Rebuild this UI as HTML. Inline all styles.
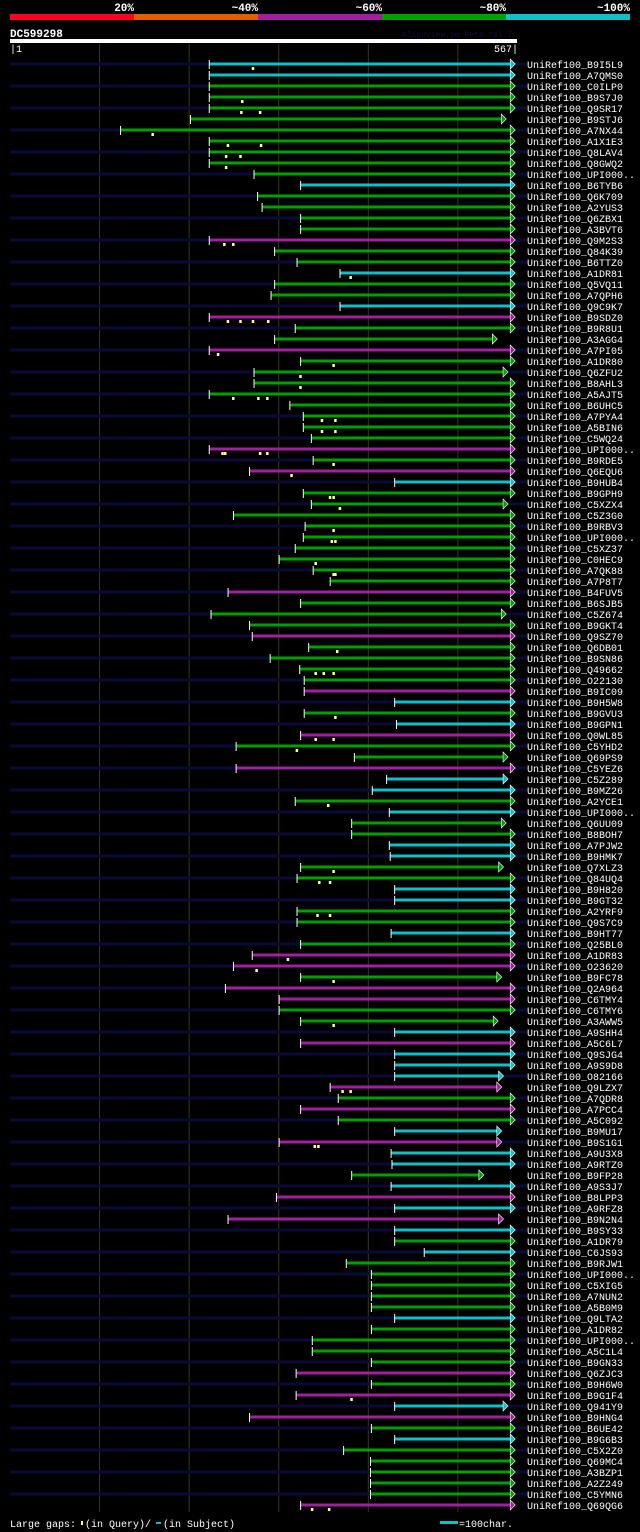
<!DOCTYPE html>
<html><head><meta charset="utf-8"><style>
html,body{margin:0;padding:0;background:#000;}
body{width:640px;height:1532px;overflow:hidden;}
svg{display:block;}
text{font-family:"Liberation Mono","DejaVu Sans Mono",monospace;}
</style></head><body>
<svg id="chart" width="640" height="1532" viewBox="0 0 640 1532" xmlns="http://www.w3.org/2000/svg">
  <g>
    <rect x="10" y="14" width="124" height="6" fill="#ff0022"/>
    <rect x="134" y="14" width="124" height="6" fill="#e06000"/>
    <rect x="258" y="14" width="124" height="6" fill="#a020a0"/>
    <rect x="382" y="14" width="124" height="6" fill="#00a000"/>
    <rect x="506" y="14" width="124" height="6" fill="#10c0c8"/>
    <g font-size="11" font-weight="bold" fill="#fff" text-anchor="end">
      <text x="134" y="11">20%</text>
      <text x="258" y="11">~40%</text>
      <text x="382" y="11">~60%</text>
      <text x="506" y="11">~80%</text>
      <text x="630" y="11">~100%</text>
    </g>
  </g>
  <text x="10" y="37" font-size="11" font-weight="bold" fill="#fff">DC599298</text>
  <text x="402" y="37" font-size="8" fill="#101040">AlignView.pm Beta rel.7</text>
  <rect x="10" y="39" width="507" height="4" fill="#fff"/>
  <text x="10" y="52" font-size="10" fill="#fff">|1</text>
  <text x="518" y="52" font-size="10" fill="#fff" text-anchor="end">567|</text>
  <g id="grid"></g>
  <g id="rows"></g>
  <g>
    <text x="10" y="1527" font-size="10" fill="#fff">Large gaps:</text>
    <rect x="81" y="1521" width="2" height="4" fill="#ffff80"/>
    <text x="85" y="1527" font-size="10" fill="#fff">(in Query)/</text>
    <rect x="156" y="1522" width="5" height="2" fill="#10c0c8"/>
    <text x="163" y="1527" font-size="10" fill="#fff">(in Subject)</text>
    <rect x="440" y="1521" width="18" height="3" fill="#10c0c8"/>
    <text x="459" y="1527" font-size="10" fill="#fff">=100char.</text>
  </g>
</svg>
<script>
const QLEN = 567;
const names = ["B9I5L9","A7QMS0","C0ILP0","B9S7J0","Q9SR17","B9STJ6","A7NX44","A1X1E3","Q8LAV4","Q8GWQ2","UPI000..","B6TYB6","Q6K709","A2YUS3","Q6ZBX1","A3BVT6","Q9M2S3","Q84K39","B6TTZ0","A1DR81","Q5VQ11","A7QPH6","Q9C9K7","B9SDZ0","B9R8U1","A3AGG4","A7PI05","A1DR80","Q6ZFU2","B8AHL3","A5AJT5","B6UHC5","A7PYA4","A5BIN6","C5WQ24","UPI000..","B9RDE5","Q6EQU6","B9HUB4","B9GPH9","C5XZX4","C5Z3G0","B9RBV3","UPI000..","C5XZ37","C0HEC9","A7QK88","A7P8T7","B4FUV5","B6SJB5","C5Z674","B9GKT4","Q9SZ70","Q6DB01","B9SN86","Q49662","O22130","B9IC09","B9H5W8","B9GVU3","B9GPN1","Q0WL85","C5YHD2","Q69PS9","C5YEZ6","C5Z289","B9MZ26","A2YCE1","UPI000..","Q6UU09","B8BOH7","A7PJW2","B9HMK7","Q7XLZ3","Q84UQ4","B9H820","B9GT32","A2YRF9","Q9S7C9","B9HT77","Q25BL0","A1DR83","O23620","B9FC78","Q2A964","C6TMY4","C6TMY6","A3AWW5","A9SHH4","A5C6L7","Q9SJG4","A9S9D8","O82166","Q9LZX7","A7QDR8","A7PCC4","A5C092","B9MU17","B9S1G1","A9U3X8","A9RTZ0","B9FP28","A9S3J7","B8LPP3","A9RFZ8","B9N2N4","B9SY33","A1DR79","C6JS93","B9RJW1","UPI000..","C5XIG5","A7NUN2","A5B0M9","Q9LTA2","A1DR82","UPI000..","A5C1L4","B9GN33","Q6ZJC3","B9H6W0","B9G1F4","Q941Y9","B9HNG4","B6UE42","B9G6B3","C5X2Z0","Q69MC4","A3BZP1","A2Z249","C5YMN6","Q69QG6"];
const identityClass = "ccgggggggg"+"gcggggmggc"+"ggcmggmggg"+"gggggmgmcg"+"ggggggggmg"+"ggmggggmcg"+"cmggmccgcg"+"gccggccggc"+"gmmgmmggcm"+"cccmgmgcmc"+"cgcmcmcgcg"+"ggggcggggm"+"gmcmgcgggg"+"gm";
const starts = [224,224,224,224,224,203,125,224,224,224,274,326,278,283,326,326,224,297,322,370,297,293,370,224,320,297,224,326,274,274,224,314,329,329,338,224,340,269,431,329,338,251,331,329,320,302,340,359,245,326,226,269,272,335,292,325,330,330,431,330,433,326,254,386,254,422,406,320,425,383,383,425,426,326,322,431,431,322,322,427,326,272,251,326,242,302,302,326,431,326,431,431,431,359,368,326,368,431,302,427,428,383,427,299,431,245,431,431,464,377,405,405,405,405,431,405,339,339,405,321,405,321,431,269,405,431,374,404,404,404,404,326];
const ends = [565,565,565,565,565,555,565,565,565,565,565,565,565,565,565,565,565,565,565,565,565,565,565,565,565,545,565,565,557,565,565,565,565,565,565,565,565,565,565,565,557,565,565,565,565,565,565,565,565,565,555,565,565,565,565,565,565,565,565,565,565,565,565,557,565,557,565,565,565,555,565,565,565,552,565,565,565,565,565,565,565,565,565,550,565,565,565,546,565,565,565,565,552,550,565,565,565,550,550,565,565,530,565,565,565,552,565,565,565,565,565,565,565,565,565,565,565,565,565,565,565,565,557,565,565,565,565,565,565,565,565,565];
const markerRows = [1,4,5,5,7,8,8,9,9,10,20,17,17,24,24,24,24,27,28,29,30,31,31,31,33,33,34,34,36,36,36,36,37,38,40,40,41,43,44,44,46,47,47,54,56,56,56,60,62,62,63,68,74,75,75,78,78,82,83,84,88,94,94,99,99,122,132,132];
const markerPos  = [272,260,259,280,160,244,281,242,258,242,381,240,250,244,258,272,289,233,362,325,325,250,278,288,349,364,349,364,238,241,280,288,362,315,358,362,369,362,360,364,342,362,364,366,342,351,362,364,342,362,321,356,362,346,358,344,358,311,276,362,362,372,381,341,345,382,338,357];

const COLORS = {c:"#10c0c8", g:"#00a000", m:"#a020a0"};
const NS = "http://www.w3.org/2000/svg";
const X0 = 10, X1 = 517, Y0 = 64, DY = 11;
function xScale(v){ return X0 + (v - 1) * (X1 - X0) / (QLEN - 1); }
function yScale(i){ return Y0 + i * DY; }
function mk(tag, attrs, parent){ const e = document.createElementNS(NS, tag); for (const k in attrs) e.setAttribute(k, attrs[k]); parent.appendChild(e); return e; }

const grid = document.getElementById("grid");
[101,201,301,401,501].forEach(function(t){
  const l = mk("line", {x1:xScale(t), x2:xScale(t), y1:44, y2:1512, stroke:"#3a3a10", "stroke-width":1}, grid);
  
  
});

const rows = document.getElementById("rows");
names.forEach(function(n, i){
  const y = yScale(i);
  const g = mk("g", {}, rows);
  
  
  if (i % 2 === 0) {
    const bg = mk("rect", {x:10, y:y-1.5, width:517, height:3, fill:"#0a0a38"}, g);
    
    
  }
  const col = COLORS[identityClass[i]] || COLORS.g;
  const xs = xScale(starts[i]), xe = xScale(ends[i]);
  const bar = mk("rect", {x:xs, y:y-1.5, width:xe-xs-4, height:3, fill:col}, g);
  
  
  const ar = mk("polygon", {points:(xe-5)+","+(y-5)+" "+xe+","+y+" "+(xe-5)+","+(y+5), fill:col, stroke:"#fff", "stroke-width":0.6}, g);
  
  
  const tk = mk("rect", {x:xs-1, y:y-4, width:1, height:9, fill:"#fff"}, g);
  
  
  const tx = mk("text", {x:527, y:y+4, "font-size":10, fill:"#fff"}, g);
  tx.textContent = "UniRef100_" + n;
  
  
});

markerRows.forEach(function(r, k){
  const y = yScale(r - 1), x = xScale(markerPos[k]);
  const m = mk("rect", {x:x-1, y:y+3, width:2.5, height:3, fill:"#ffff80"}, rows);
  
  
});
</script>
</body></html>
